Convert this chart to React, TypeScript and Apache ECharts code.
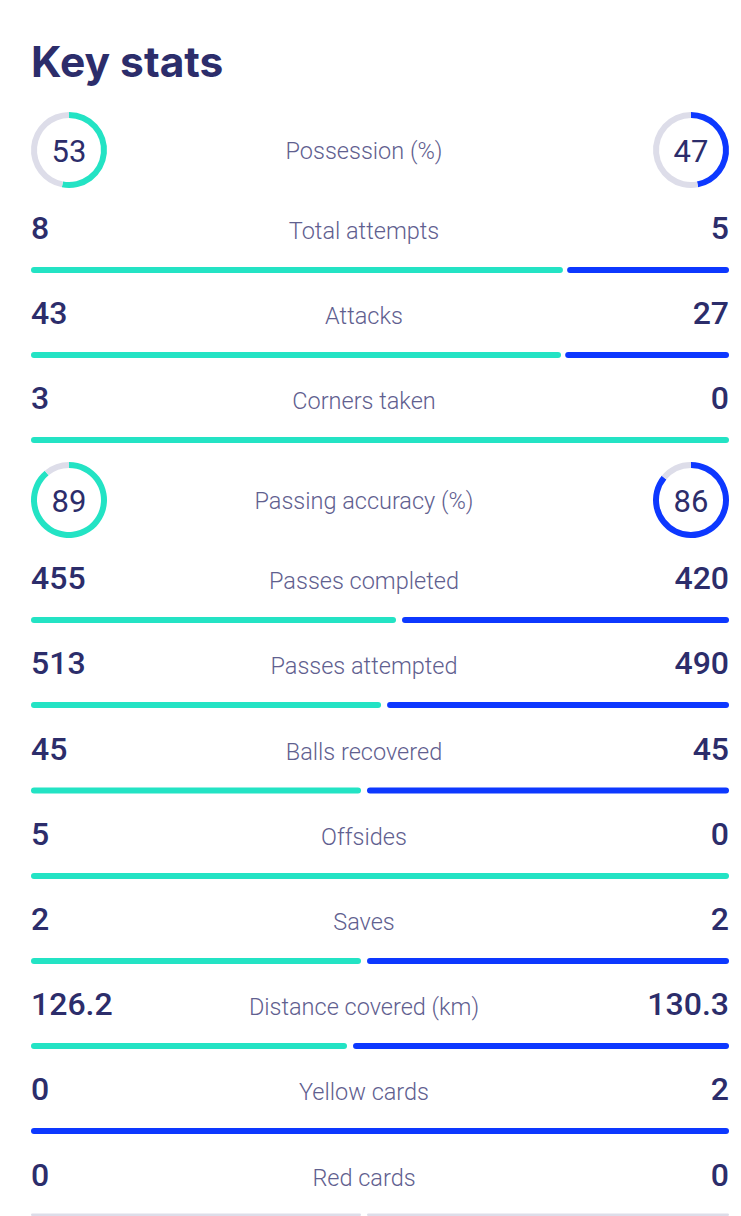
import React, { useEffect, useRef } from "react";
import * as echarts from "echarts";

// ---- Data ----
const title = "Key stats";

const ringLabels = ["Possession (%)", "Passing accuracy (%)"];
const ringHome = [53, 89];
const ringAway = [47, 86];

const statLabels = [
  "Total attempts",
  "Attacks",
  "Corners taken",
  "Passes completed",
  "Passes attempted",
  "Balls recovered",
  "Offsides",
  "Saves",
  "Distance covered (km)",
  "Yellow cards",
  "Red cards",
];
const homeValues = [8, 43, 3, 455, 513, 45, 5, 2, 126.2, 0, 0];
const awayValues = [5, 27, 0, 420, 490, 45, 0, 2, 130.3, 2, 0];

// ---- Style / layout ----
const TEAL = "#23e3c4";
const BLUE = "#0d38ff";
const GRAY = "#dddde9";
const NAVY = "#2c2d6b";
const LABEL = "#5f608f";

const W = 741;
const H = 1216;
const BAR_LEFT = 31;
const BAR_WIDTH = 698;
const LABEL_X = 364;
const RING_LEFT_X = 69;
const RING_RIGHT_X = 691;
const ringY = [150, 500];
const barY = [270, 355, 440, 620, 705, 790.5, 876, 961, 1046, 1131, 1216.5];

// bar split: visual emphasis of the difference between the two sides (percent of bar)
const BASE = 47.28;
const GAIN = 250.7;
const GAP = 0.6;

function splitFor(h: number, a: number) {
  if (h === 0 && a === 0) return { home: BASE, gap: 0.86, away: 100 - BASE - 0.86, empty: true };
  if (a === 0) return { home: 100, gap: 0, away: 0, empty: false };
  if (h === 0) return { home: 0, gap: 0, away: 100, empty: false };
  const share = h / (h + a);
  let home = BASE + (share - 0.5) * GAIN;
  home = Math.max(2, Math.min(96, home));
  const gap = Math.abs(share - 0.5) > 0.08 ? GAP : 0.86;
  return { home, gap, away: 100 - home - gap, empty: false };
}

export default function App() {
  const ref = useRef<HTMLDivElement>(null);
  useEffect(() => {
    document.body.style.margin = "0";
    if (!ref.current) return;
    const chart = echarts.init(ref.current, null, { renderer: "svg" });

    const grid: any[] = [];
    const xAxis: any[] = [];
    const yAxis: any[] = [];
    const series: any[] = [];
    const graphic: any[] = [];

    const numFont = { fontFamily: "Roboto", fontWeight: 500, fontSize: 32 };
    const labFont = { fontFamily: "Roboto", fontWeight: 300, fontSize: 23.5 };

    graphic.push({
      type: "text",
      style: {
        text: title,
        x: 31,
        y: 61,
        fill: NAVY,
        fontFamily: "Inter",
        fontWeight: 700,
        fontSize: 42.5,
        verticalAlign: "middle",
        align: "left",
      },
    });

    // Ring rows
    ringLabels.forEach((lab, i) => {
      const y = ringY[i];
      [
        { x: RING_LEFT_X, v: ringHome[i], c: TEAL },
        { x: RING_RIGHT_X, v: ringAway[i], c: BLUE },
      ].forEach((r) => {
        series.push({
          type: "pie",
          center: [r.x, y],
          radius: [32, 38],
          startAngle: 90,
          clockwise: true,
          silent: true,
          label: { show: false },
          labelLine: { show: false },
          emphasis: { disabled: true },
          data: [
            { value: r.v, itemStyle: { color: r.c } },
            { value: 100 - r.v, itemStyle: { color: GRAY } },
          ],
        });
        graphic.push({
          type: "text",
          style: {
            text: String(r.v),
            x: r.x,
            y: y + 1,
            fill: NAVY,
            ...numFont,
            fontWeight: 400,
            fontSize: 31,
            align: "center",
            verticalAlign: "middle",
          },
        });
      });
      graphic.push({
        type: "text",
        style: {
          text: lab,
          x: LABEL_X,
          y: y + 1,
          fill: LABEL,
          ...labFont,
          align: "center",
          verticalAlign: "middle",
        },
      });
    });

    // Bar rows
    statLabels.forEach((lab, i) => {
      const y = barY[i];
      const h = homeValues[i];
      const a = awayValues[i];
      const s = splitFor(h, a);
      grid.push({ left: BAR_LEFT, width: BAR_WIDTH, top: y - 3, height: 6 });
      xAxis.push({ type: "value", gridIndex: i, min: 0, max: 100, show: false });
      yAxis.push({ type: "category", gridIndex: i, data: [lab], show: false });
      const common = {
        type: "bar",
        xAxisIndex: i,
        yAxisIndex: i,
        stack: "row" + i,
        barWidth: 6,
        silent: true,
        emphasis: { disabled: true },
      };
      series.push({
        ...common,
        name: lab + " home",
        data: [s.home],
        itemStyle: { color: s.empty ? GRAY : TEAL, borderRadius: 3 },
      });
      series.push({
        ...common,
        name: lab + " gap",
        data: [s.gap],
        itemStyle: { color: "rgba(0,0,0,0)" },
      });
      series.push({
        ...common,
        name: lab + " away",
        data: [s.away],
        itemStyle: { color: s.empty ? GRAY : BLUE, borderRadius: 3 },
      });

      graphic.push({
        type: "text",
        style: {
          text: String(h),
          x: BAR_LEFT,
          y: y - 42,
          fill: NAVY,
          ...numFont,
          align: "left",
          verticalAlign: "middle",
        },
      });
      graphic.push({
        type: "text",
        style: {
          text: String(a),
          x: BAR_LEFT + BAR_WIDTH,
          y: y - 42,
          fill: NAVY,
          ...numFont,
          align: "right",
          verticalAlign: "middle",
        },
      });
      graphic.push({
        type: "text",
        style: {
          text: lab,
          x: LABEL_X,
          y: y - 39,
          fill: LABEL,
          ...labFont,
          align: "center",
          verticalAlign: "middle",
        },
      });
    });

    chart.setOption({
      animation: false,
      backgroundColor: "#ffffff",
      grid,
      xAxis,
      yAxis,
      series,
      graphic,
    });
    return () => chart.dispose();
  }, []);

  return (
    <div
      ref={ref}
      style={{ position: "absolute", left: 0, top: 0, width: W, height: H }}
    />
  );
}
